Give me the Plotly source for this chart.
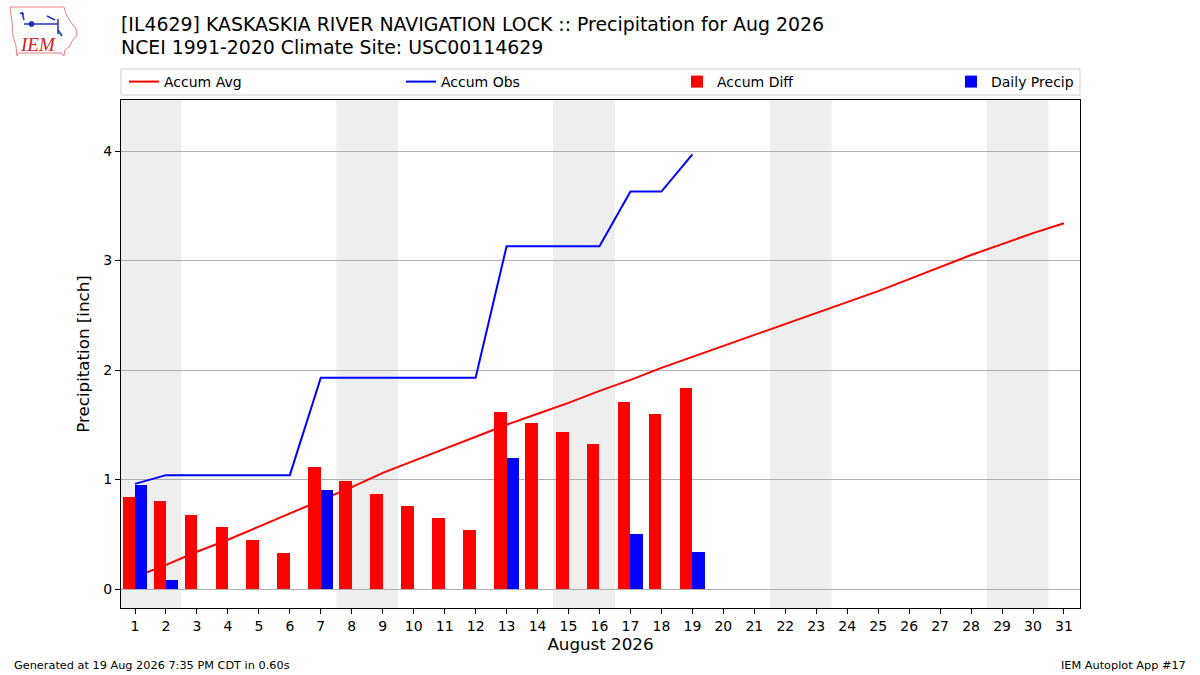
import plotly.graph_objects as go

# ---------------- data ----------------
days = list(range(1, 32))
accum_avg = [0.11, 0.22, 0.34, 0.45, 0.57, 0.69, 0.81, 0.93, 1.06, 1.17, 1.28,
             1.39, 1.50, 1.60, 1.70, 1.81, 1.91, 2.02, 2.12, 2.22, 2.32, 2.42,
             2.52, 2.62, 2.72, 2.83, 2.94, 3.05, 3.15, 3.25, 3.34]
obs_days = list(range(1, 20))
accum_obs = [0.96, 1.04, 1.04, 1.04, 1.04, 1.04, 1.93, 1.93, 1.93, 1.93, 1.93,
             1.93, 3.13, 3.13, 3.13, 3.13, 3.63, 3.63, 3.97]
accum_diff = [0.84, 0.80, 0.68, 0.57, 0.45, 0.33, 1.11, 0.99, 0.87, 0.76, 0.65,
              0.54, 1.62, 1.52, 1.43, 1.32, 1.71, 1.60, 1.84]
daily_precip = [0.95, 0.08, 0, 0, 0, 0, 0.90, 0, 0, 0, 0,
                0, 1.20, 0, 0, 0, 0.50, 0, 0.34]
weekend_starts = [1, 8, 15, 22, 29]
tick_labels = [str(d) for d in days]

title1 = "[IL4629] KASKASKIA RIVER NAVIGATION LOCK :: Precipitation for Aug 2026"
title2 = "NCEI 1991-2020 Climate Site: USC00114629"

# ---------------- layout geometry (pixels) ----------------
W, H = 1200, 675
PL, PR, PT, PB = 121, 1080, 100, 608


def px(x):
    return (x - PL) / (PR - PL)


def py(y):
    return (PB - y) / (PB - PT)


FONT = "DejaVu Sans"
fig = go.Figure()

# avg line on base subplot (drawn beneath bars)
fig.add_trace(go.Scatter(x=days, y=accum_avg, mode="lines", name="Accum Avg",
                         line=dict(color="#ff0000", width=2), legend="legend",
                         showlegend=True, xaxis="x", yaxis="y"))
fig.add_trace(go.Bar(x=obs_days, y=accum_diff, name="Accum Diff",
                     marker=dict(color="#ff0000", line=dict(width=0)),
                     offset=-0.4, width=0.4, legend="legend3", showlegend=True,
                     xaxis="x2", yaxis="y2"))
fig.add_trace(go.Bar(x=obs_days, y=daily_precip, name="Daily Precip",
                     marker=dict(color="#0000ff", line=dict(width=0)),
                     offset=0.0, width=0.4, legend="legend4", showlegend=True,
                     xaxis="x2", yaxis="y2"))
fig.add_trace(go.Scatter(x=obs_days, y=accum_obs, mode="lines", name="Accum Obs",
                         line=dict(color="#0000ff", width=2), legend="legend2",
                         showlegend=True, xaxis="x2", yaxis="y2"))

xr = [0.548, 31.517]
yr = [-0.1735, 4.466]

shapes = []
for s in weekend_starts:
    shapes.append(dict(type="rect", xref="x", yref="paper", x0=s - 0.5, x1=s + 1.5,
                       y0=0, y1=1, fillcolor="#eeeeee", line=dict(width=0),
                       layer="below"))
# legend frame
shapes.append(dict(type="rect", xref="paper", yref="paper", x0=px(121), x1=px(1080),
                   y0=py(95), y1=py(69), line=dict(color="#d0d0d0", width=1),
                   fillcolor="rgba(255,255,255,0.8)", layer="above"))
# logo: Iowa outline
iowa = [(10, 7), (64, 7), (66, 14), (70, 21), (76, 29), (77, 35), (72, 41),
        (70, 46), (65, 50), (64, 56), (61, 53), (18, 53), (17, 56), (16, 46),
        (13, 36), (12, 22), (10, 7)]
path = "M " + " L ".join(f"{px(a):.5f},{py(b):.5f}" for a, b in iowa) + " Z"
shapes.append(dict(type="path", xref="paper", yref="paper", path=path,
                   line=dict(color="#f08080", width=1), fillcolor="white"))
# logo: weather vane (blue)
vane = [
    ((24, 24), (58, 24)), ((58, 19), (58, 34)), ((58, 30), (62, 36)),
    ((22, 12), (24, 20)), ((20, 13), (24, 14)), ((47, 16), (55, 20)),
]
for (a, b), (c, d) in vane:
    shapes.append(dict(type="line", xref="paper", yref="paper", x0=px(a), y0=py(b),
                       x1=px(c), y1=py(d), line=dict(color="#2030c0", width=1.5)))
shapes.append(dict(type="circle", xref="paper", yref="paper", x0=px(29), x1=px(34),
                   y0=py(26.5), y1=py(21.5), fillcolor="#2030c0",
                   line=dict(color="#2030c0", width=1)))

annotations = [
    dict(text=title1, x=px(119), y=py(24), xref="paper", yref="paper",
         xanchor="left", yanchor="middle", showarrow=False,
         font=dict(family=FONT, size=18.9, color="black")),
    dict(text=title2, x=px(119), y=py(47), xref="paper", yref="paper",
         xanchor="left", yanchor="middle", showarrow=False,
         font=dict(family=FONT, size=18.9, color="black")),
    dict(text="<i>IEM</i>", x=px(38), y=py(45), xref="paper", yref="paper",
         xanchor="center", yanchor="middle", showarrow=False,
         font=dict(family="Liberation Serif", size=19, color="#d42020")),
    dict(text="Generated at 19 Aug 2026 7:35 PM CDT in 0.60s", x=px(12), y=py(665),
         xref="paper", yref="paper", xanchor="left", yanchor="middle",
         showarrow=False, font=dict(family=FONT, size=11.3, color="black")),
    dict(text="IEM Autoplot App #17", x=px(1188), y=py(665),
         xref="paper", yref="paper", xanchor="right", yanchor="middle",
         showarrow=False, font=dict(family=FONT, size=11.3, color="black")),
]

leg_common = dict(orientation="h", yanchor="middle", xanchor="left",
                  bgcolor="rgba(0,0,0,0)", borderwidth=0,
                  font=dict(family=FONT, size=14, color="black"))
fig.update_layout(
    width=W, height=H, showlegend=True,
    margin=dict(l=PL, r=W - PR, t=PT, b=H - PB, autoexpand=False),
    paper_bgcolor="white", plot_bgcolor="rgba(0,0,0,0)",
    barmode="overlay", bargap=0,
    font=dict(family=FONT, size=14, color="black"),
    xaxis=dict(range=xr, tickmode="array", tickvals=days, ticktext=tick_labels,
               ticks="outside", ticklen=5, tickcolor="black", showgrid=False,
               showline=True, linecolor="black", linewidth=1, mirror=True,
               zeroline=False, tickfont=dict(family=FONT, size=14),
               title=dict(text="August 2026", font=dict(family=FONT, size=16.7),
                          standoff=4)),
    yaxis=dict(range=yr, tickmode="array", tickvals=[0, 1, 2, 3, 4],
               ticks="outside", ticklen=5, tickcolor="black", showgrid=True,
               gridcolor="#b0b0b0", gridwidth=1, showline=True, linecolor="black",
               linewidth=1, mirror=True, zeroline=False,
               tickfont=dict(family=FONT, size=14),
               title=dict(text="Precipitation [inch]", font=dict(family=FONT, size=16.7),
                          standoff=9)),
    xaxis2=dict(range=xr, overlaying="x", visible=False),
    yaxis2=dict(range=yr, overlaying="y", visible=False),
    legend=dict(x=px(124), y=py(82), **leg_common),
    legend2=dict(x=px(401), y=py(82), **leg_common),
    legend3=dict(x=px(677), y=py(82), **leg_common),
    legend4=dict(x=px(951), y=py(82), **leg_common),
    shapes=shapes,
    annotations=annotations,
)

fig.write_html("out.html",
               config={"displayModeBar": False},
               post_script="document.body.style.margin='0';"
                           "document.body.style.overflow='hidden';")
